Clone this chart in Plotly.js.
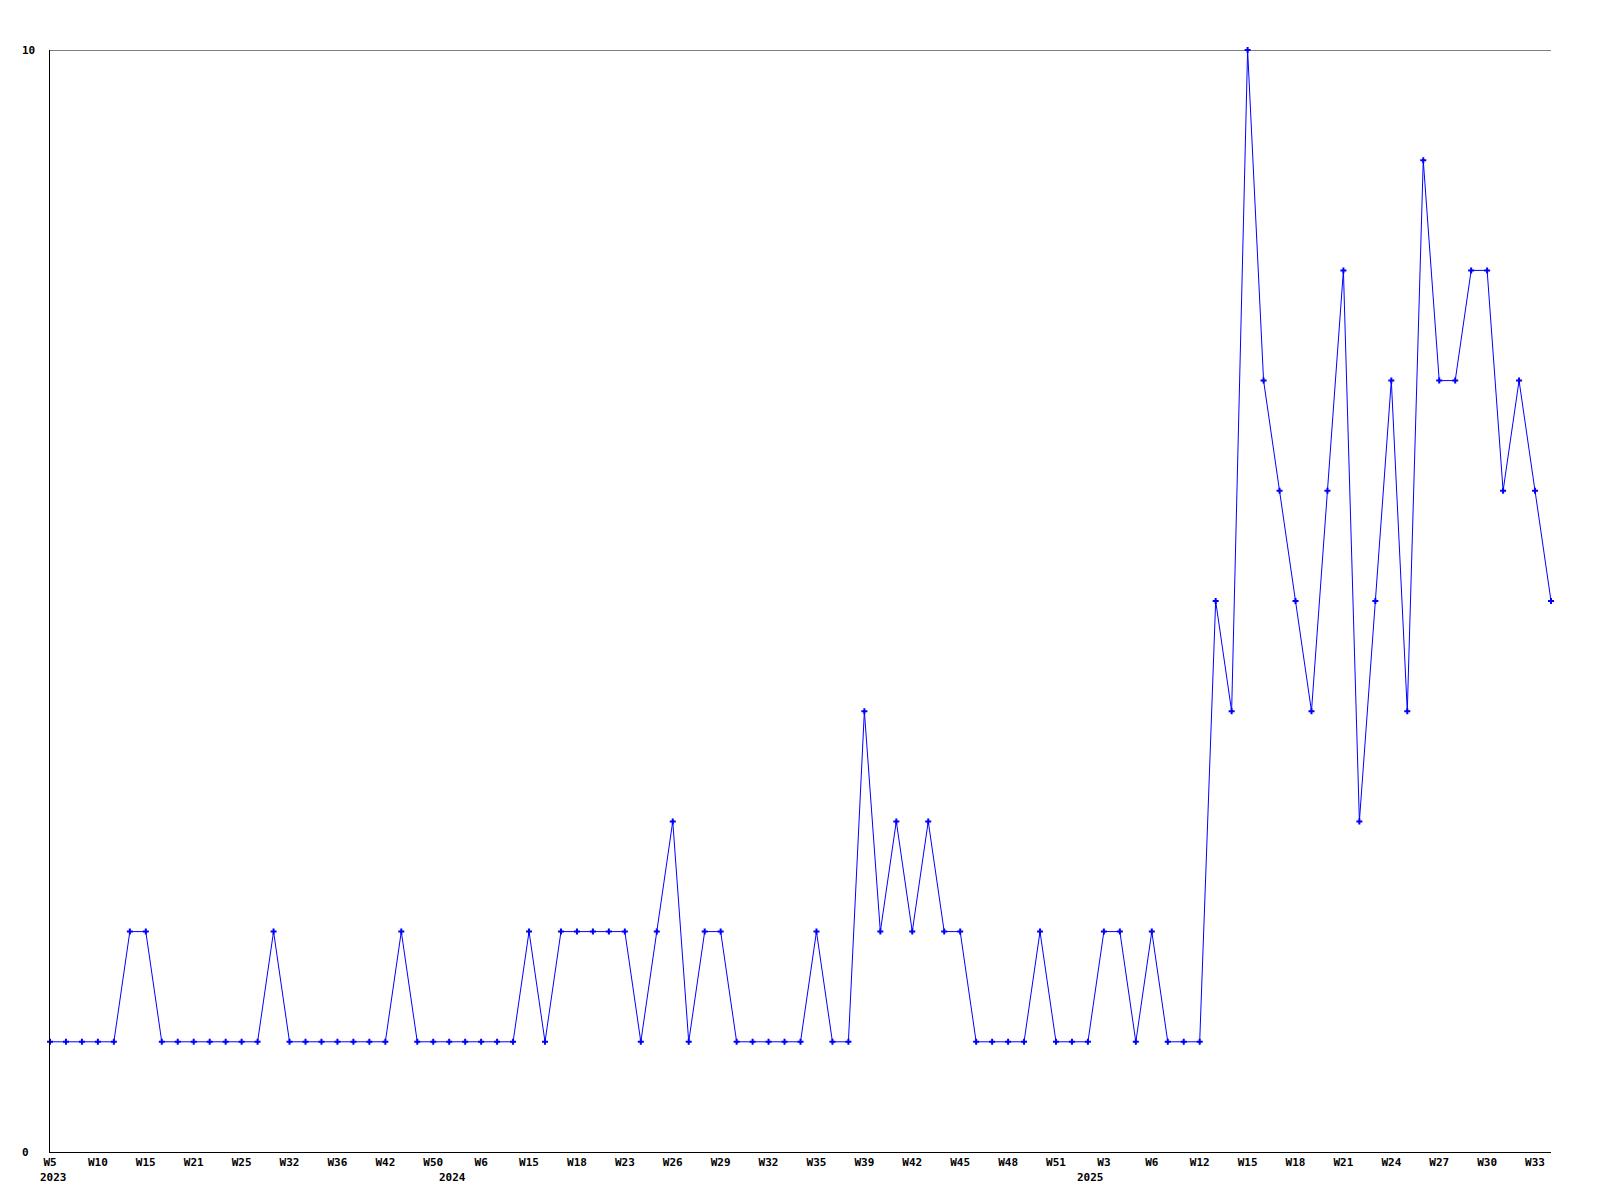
<!DOCTYPE html>
<html>
<head>
<meta charset="utf-8">
<script src="https://cdn.plot.ly/plotly-3.0.1.min.js"></script>
<style>
  html, body { margin: 0; padding: 0; background: #ffffff; }
  #chart { width: 1600px; height: 1200px; }
</style>
</head>
<body>
<div id="chart"></div>
<script>
// ---- Data ----
const values = [
  1,1,1,1,1,2,2,1,1,1,
  1,1,1,1,2,1,1,1,1,1,
  1,1,2,1,1,1,1,1,1,1,
  2,1,2,2,2,2,2,1,2,3,
  1,2,2,1,1,1,1,1,2,1,
  1,4,2,3,2,3,2,2,1,1,
  1,1,2,1,1,1,2,2,1,2,
  1,1,1,5,4,10,7,6,5,4,
  6,8,3,5,7,4,9,7,7,8,
  8,6,7,6,5
];
const weekTickIdx = [0,3,6,9,12,15,18,21,24,27,30,33,36,39,42,45,48,51,54,57,60,63,66,69,72,75,78,81,84,87,90,93];
const weekTickText = ["W5","W10","W15","W21","W25","W32","W36","W42","W50","W6","W15","W18","W23","W26","W29","W32","W35","W39","W42","W45","W48","W51","W3","W6","W12","W15","W18","W21","W24","W27","W30","W33"];
const yearLabels = ["2023","2024","2025"];
const yearIdx = [0, 25, 65];
const yTickVals = [0, 10];
const yTickText = ["0", "10"];

const xIdx = values.map((_, i) => i);

const FONT = { family: "DejaVu Sans Mono, monospace", size: 11, color: "#000000", weight: "bold" };

const trace = {
  x: xIdx,
  y: values,
  type: "scatter",
  mode: "lines+markers",
  line: { color: "#0000ff", width: 1 },
  marker: { symbol: "cross", size: 5, color: "#0000ff" },
  cliponaxis: false,
  hoverinfo: "x+y"
};

const annotations = [];
yearLabels.forEach((t, k) => {
  annotations.push({
    text: t, x: yearIdx[k], xref: "x", y: 0, yref: "paper",
    xanchor: "center", yanchor: "middle", xshift: 3, yshift: -25.5,
    showarrow: false, font: FONT
  });
});
yTickVals.forEach((v, k) => {
  annotations.push({
    text: yTickText[k], x: 0, xref: "paper", y: v, yref: "y",
    xanchor: "left", yanchor: "middle", xshift: -30,
    showarrow: false, font: FONT
  });
});

const shapes = [{
  type: "line", xref: "paper", x0: 0, x1: 1, yref: "y", y0: yTickVals[1], y1: yTickVals[1],
  line: { color: "#000000", width: 1.2 }, layer: "below"
}];

const layout = {
  width: 1600,
  height: 1200,
  paper_bgcolor: "#ffffff",
  plot_bgcolor: "#ffffff",
  margin: { l: 50, r: 49, t: 50, b: 48, pad: 0 },
  showlegend: false,
  font: FONT,
  xaxis: {
    range: [0, 94],
    tickmode: "array",
    tickvals: weekTickIdx,
    ticktext: weekTickText,
    ticks: "",
    showgrid: false,
    zeroline: false,
    showline: true,
    linecolor: "#000000",
    linewidth: 1,
    tickfont: FONT,
    ticklabelstandoff: 0,
    fixedrange: true
  },
  yaxis: {
    range: [0, 10],
    tickmode: "array",
    tickvals: yTickVals,
    showticklabels: false,
    ticks: "",
    showgrid: false,
    zeroline: false,
    showline: true,
    linecolor: "#000000",
    linewidth: 1,
    fixedrange: true
  },
  shapes: shapes,
  annotations: annotations
};

Plotly.newPlot("chart", [trace], layout, { displayModeBar: false, staticPlot: true });
</script>
</body>
</html>
